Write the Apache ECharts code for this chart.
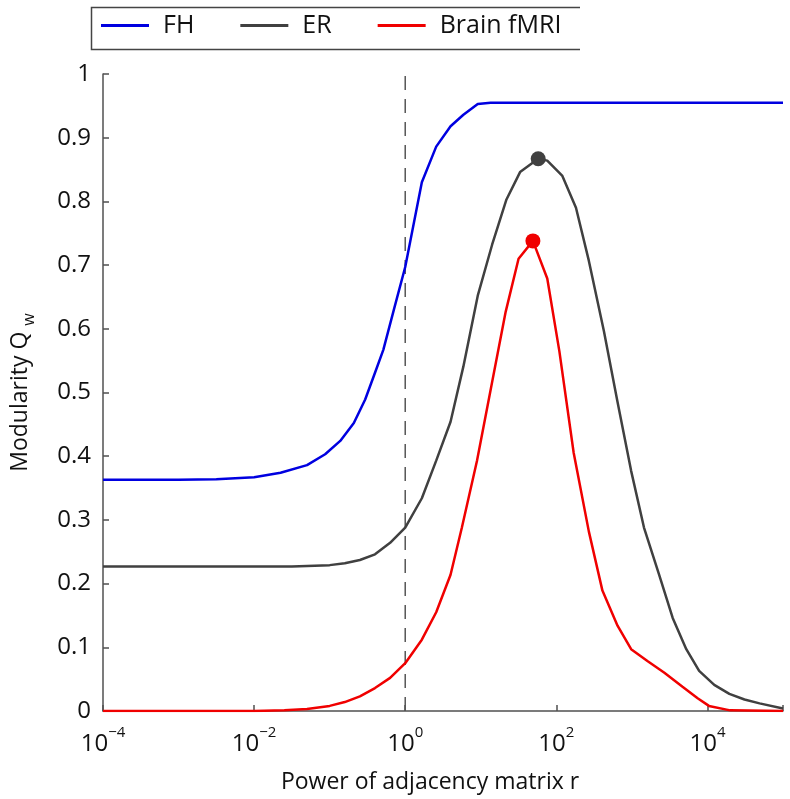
<!DOCTYPE html>
<html><head><meta charset="utf-8">
<script src="https://cdn.jsdelivr.net/npm/echarts@6/dist/echarts.min.js"></script>
<style>html,body{margin:0;padding:0;background:#fff}#c{width:790px;height:799px}</style>
</head><body><div id="c"></div>
<script>
// ---- data (x = log10 of r, y = modularity Q_w) ----
const seriesNames = ['FH', 'ER', 'Brain fMRI'];
const seriesColors = ['#0000e0', '#404040', '#f00000'];

const fhLogR = [-4, -3.5, -3, -2.5, -2, -1.65, -1.3, -1.06, -0.86, -0.68, -0.53, -0.4, -0.29, -0.15, 0, 0.22, 0.41, 0.6, 0.77, 0.96, 1.13, 1.5, 2, 3, 4, 5];
const fhQ    = [0.363, 0.363, 0.363, 0.364, 0.367, 0.374, 0.386, 0.403, 0.424, 0.452, 0.489, 0.531, 0.567, 0.630, 0.697, 0.830, 0.886, 0.918, 0.936, 0.953, 0.955, 0.955, 0.955, 0.955, 0.955, 0.955];

const erLogR = [-4, -3, -2, -1.5, -1, -0.8, -0.6, -0.4, -0.2, 0, 0.22, 0.41, 0.6, 0.77, 0.96, 1.15, 1.34, 1.52, 1.76, 1.88, 2.08, 2.26, 2.43, 2.63, 2.81, 2.99, 3.16, 3.36, 3.54, 3.72, 3.89, 4.09, 4.29, 4.49, 4.69, 5];
const erQ    = [0.227, 0.227, 0.227, 0.227, 0.229, 0.232, 0.237, 0.246, 0.264, 0.288, 0.334, 0.393, 0.454, 0.541, 0.652, 0.732, 0.803, 0.846, 0.867, 0.864, 0.840, 0.790, 0.707, 0.596, 0.485, 0.377, 0.288, 0.214, 0.146, 0.097, 0.063, 0.041, 0.027, 0.018, 0.012, 0.004];

const brainLogR = [-4, -3, -2, -1.6, -1.3, -1.0, -0.8, -0.6, -0.4, -0.2, 0, 0.22, 0.41, 0.6, 0.75, 0.95, 1.13, 1.33, 1.5, 1.69, 1.88, 2.04, 2.23, 2.43, 2.61, 2.81, 2.99, 3.21, 3.43, 3.67, 3.87, 4.02, 4.3, 5];
const brainQ    = [0, 0, 0, 0.001, 0.003, 0.008, 0.014, 0.023, 0.036, 0.052, 0.075, 0.112, 0.155, 0.214, 0.288, 0.393, 0.504, 0.627, 0.710, 0.738, 0.679, 0.565, 0.405, 0.282, 0.189, 0.134, 0.097, 0.078, 0.060, 0.038, 0.020, 0.008, 0.001, 0];

const erPeak = [1.76, 0.867];
const brainPeak = [1.69, 0.738];

const xTickExps = [-4, -2, 0, 2, 4];   // labels 10^n
const xMin = -4, xMax = 5, xStep = 2;
const yMin = 0, yMax = 1, yStep = 0.1;
const refLineLogR = 0;                  // dashed line at r = 10^0
const xTitle = 'Power of adjacency matrix r';
const yTitleMain = 'Modularity Q ';
const yTitleSub = 'w';

// ---- chart ----
const pairs = (xs, ys) => xs.map((x, i) => [x, ys[i]]);
const axisColor = '#505050';
const font = 'Open Sans';

const chart = echarts.init(document.getElementById('c'), null, {renderer: 'canvas'});
chart.setOption({
  animation: false,
  backgroundColor: '#fff',
  grid: {left: 103, right: 7, top: 74, bottom: 88, containLabel: false},
  legend: {
    data: seriesNames.map(n => ({name: n, icon: 'rect'})),
    left: 101, top: 13, padding: 0,
    itemWidth: 48, itemHeight: 3, itemGap: 46,
    textStyle: {fontFamily: font, fontSize: 25, color: '#111', padding: [0, 0, 0, 9]}
  },
  graphic: [{
    type: 'polyline', silent: true,
    shape: {points: [[580, 7.5], [91.5, 7.5], [91.5, 49.5], [580, 49.5]]},
    style: {stroke: '#444', lineWidth: 1.5, fill: null}
  }],
  xAxis: {
    type: 'value', min: xMin, max: xMax, interval: xStep,
    axisLine: {show: true, onZero: false, lineStyle: {color: axisColor, width: 1.5}},
    axisTick: {show: true, inside: true, length: 6, lineStyle: {color: axisColor, width: 1.5}},
    splitLine: {show: false},
    axisLabel: {
      margin: 14,
      formatter: v => xTickExps.includes(v) ? '{b|10}{s|' + (v < 0 ? '\u2212' : '') + Math.abs(v) + '}' : '',
      rich: {
        b: {fontFamily: font, fontSize: 24, lineHeight: 38, color: '#111'},
        s: {fontFamily: font, fontSize: 15, lineHeight: 14, verticalAlign: 'top', color: '#111'}
      }
    },
    name: xTitle, nameLocation: 'middle', nameGap: 60,
    nameTextStyle: {fontFamily: font, fontSize: 23, color: '#111', padding: [0, 26, 0, 0]}
  },
  yAxis: {
    type: 'value', min: yMin, max: yMax, interval: yStep,
    axisLine: {show: true, onZero: false, lineStyle: {color: axisColor, width: 1.5}},
    axisTick: {show: true, inside: true, length: 6, lineStyle: {color: axisColor, width: 1.5}},
    splitLine: {show: false},
    axisLabel: {margin: 12, fontFamily: font, fontSize: 24, color: '#111'},
    name: '{a|' + yTitleMain + '}{s|' + yTitleSub + '}',
    nameLocation: 'middle', nameGap: 66, nameRotate: 90,
    nameTextStyle: {
      rich: {
        a: {fontFamily: font, fontSize: 23, lineHeight: 34, color: '#111'},
        s: {fontFamily: font, fontSize: 16, lineHeight: 16, verticalAlign: 'bottom', color: '#111'}
      }
    }
  },
  series: [
    {
      name: 'ref', type: 'line', data: [[refLineLogR, yMin], [refLineLogR, yMax]],
      showSymbol: false, symbol: 'none', silent: true, z: 1,
      lineStyle: {color: '#555', width: 1.5, type: [14, 9]}
    },
    {
      name: seriesNames[0], type: 'line', data: pairs(fhLogR, fhQ),
      showSymbol: false, symbol: 'none', smooth: false,
      lineStyle: {color: seriesColors[0], width: 2.5}, itemStyle: {color: seriesColors[0]}
    },
    {
      name: seriesNames[1], type: 'line', data: pairs(erLogR, erQ),
      showSymbol: false, symbol: 'none', smooth: false,
      lineStyle: {color: seriesColors[1], width: 2.5}, itemStyle: {color: seriesColors[1]}
    },
    {
      name: seriesNames[2], type: 'line', data: pairs(brainLogR, brainQ),
      showSymbol: false, symbol: 'none', smooth: false,
      lineStyle: {color: seriesColors[2], width: 2.5}, itemStyle: {color: seriesColors[2]}
    },
    {
      name: 'ER peak', type: 'scatter', data: [erPeak], symbolSize: 15,
      itemStyle: {color: seriesColors[1], opacity: 1}, z: 5
    },
    {
      name: 'Brain peak', type: 'scatter', data: [brainPeak], symbolSize: 15,
      itemStyle: {color: seriesColors[2], opacity: 1}, z: 5
    }
  ]
});
</script>
</body></html>
